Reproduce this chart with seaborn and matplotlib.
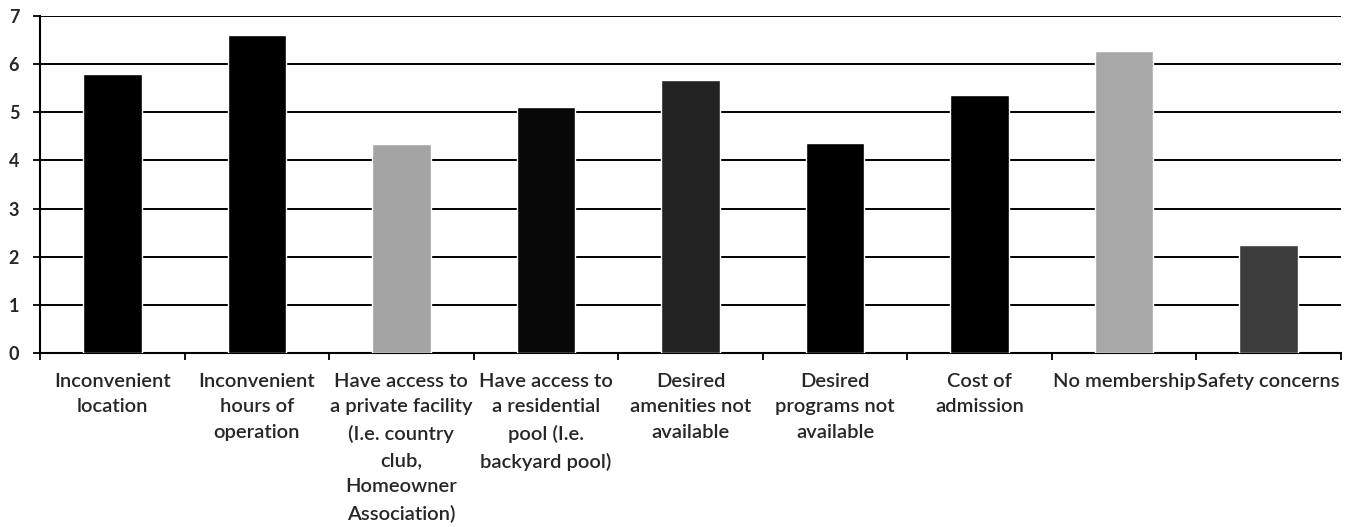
import matplotlib
matplotlib.use("Agg")
import matplotlib.pyplot as plt
import seaborn as sns
import pandas as pd
import numpy as np

categories = [
    "Inconvenient\nlocation",
    "Inconvenient\nhours of\noperation",
    "Have access to\na private facility\n(I.e. country\nclub,\nHomeowner\nAssociation)",
    "Have access to\na residential\npool (I.e.\nbackyard pool)",
    "Desired\namenities not\navailable",
    "Desired\nprograms not\navailable",
    "Cost of\nadmission",
    "No membership",
    "Safety concerns",
]
values = [5.80, 6.60, 4.34, 5.11, 5.66, 4.37, 5.35, 6.28, 2.24]
bar_colors = ["#000000", "#000000", "#a4a4a4", "#080808", "#222222",
              "#000000", "#000000", "#a8a8a8", "#3c3c3c"]
y_ticks = [0, 1, 2, 3, 4, 5, 6, 7]

sns.set_theme(style="white")
plt.rcParams['font.family'] = ['Lato', 'DejaVu Sans']

df = pd.DataFrame({"category": categories, "value": values})

fig = plt.figure(figsize=(13.52, 5.27), dpi=100)
ax = fig.add_axes([0.0296, 0.330, 0.9623, 0.640])

sns.barplot(data=df, x="category", y="value", hue="category",
            palette=bar_colors, width=0.405, legend=False, ax=ax,
            saturation=1, zorder=3)

ax.set_ylim(0, 7)
ax.set_xlim(-0.5, len(categories) - 0.5)
ax.set_yticks(y_ticks)
ax.set_yticklabels([str(t) for t in y_ticks], fontsize=13, fontweight="bold")
ax.yaxis.grid(True, color="black", linewidth=1.4, zorder=0)
ax.set_axisbelow(True)

ax.set_xticks(range(len(categories)))
ax.set_xticklabels(categories, fontsize=14.5, fontweight="semibold",
                   linespacing=1.64, va="top", ha="center")
ax.tick_params(axis="x", which="major", length=0, pad=14)
ax.set_xticks(np.arange(-0.5, len(categories), 1.0), minor=True)
ax.tick_params(axis="x", which="minor", length=5, width=1.3, color="black",
               direction="out", bottom=True)
ax.tick_params(axis="y", which="major", length=5, width=1.3, color="black",
               direction="out", left=True, pad=10)

ax.set_xlabel("")
ax.set_ylabel("")
for s in ["top", "right"]:
    ax.spines[s].set_visible(False)
for s in ["left", "bottom"]:
    ax.spines[s].set_visible(True)
    ax.spines[s].set_color("black")
    ax.spines[s].set_linewidth(1.5)

fig.savefig("out.png", dpi=100, facecolor="white")
